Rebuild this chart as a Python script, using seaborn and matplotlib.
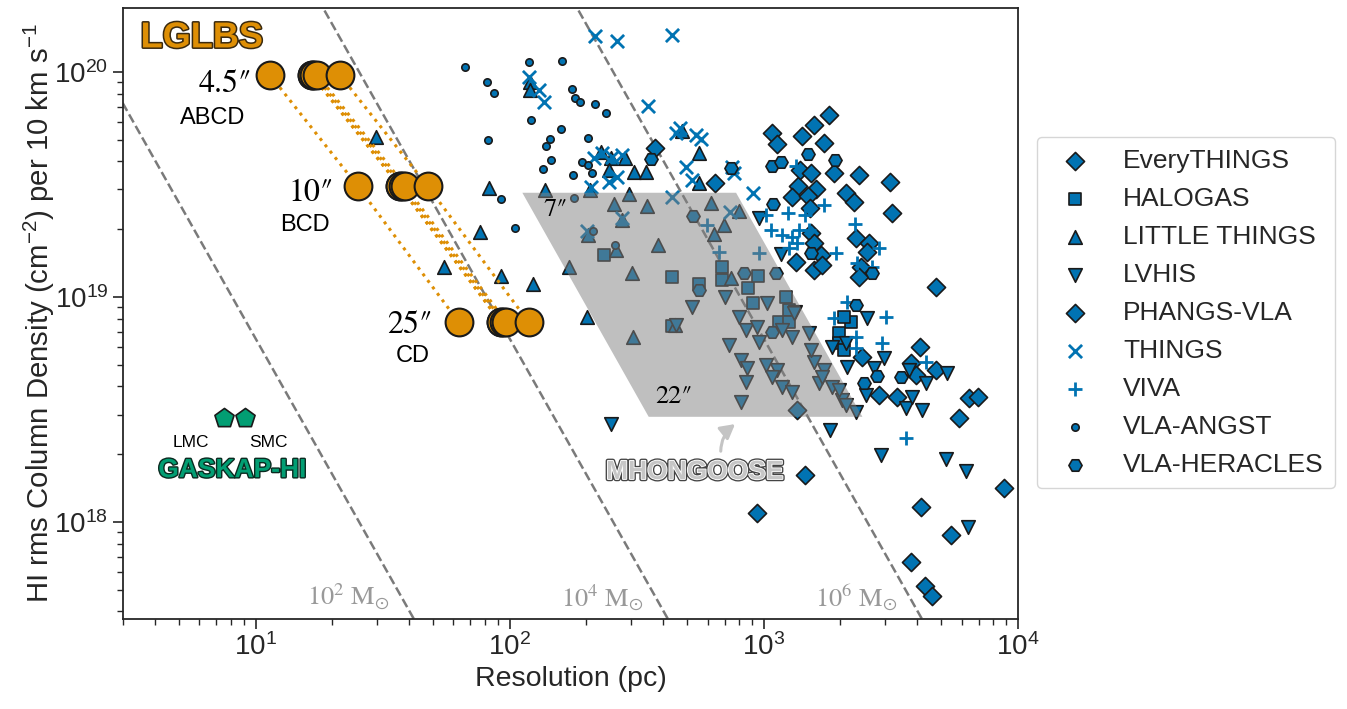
import numpy as np
import pandas as pd
import matplotlib
matplotlib.use("Agg")
import matplotlib.pyplot as plt
import matplotlib.patheffects as pe
import seaborn as sns

# ---------------------------------------------------------------------------
# Archival HI surveys: spatial resolution (pc) and rms column density
# per 10 km/s channel, in units of 1e18 cm^-2
# ---------------------------------------------------------------------------
everythings_res = [372, 641, 1361, 1603, 1288, 1490, 1517, 2302, 2588, 2545,
                   1531, 1574, 1676, 1574, 1337, 1691, 2410, 2367, 4112, 2431,
                   3790, 4753, 3963, 2838, 3342, 6410, 6960, 5860, 1349, 1450,
                   938, 4150, 5445, 3790, 4306, 4585, 8810]
everythings_nhi = [45.9, 32.1, 31.1, 30.2, 27.8, 28.1, 24.9, 18.3, 17.4, 15.8,
                   19.2, 17.4, 15.4, 13.2, 14.3, 13.9, 13.5, 12.3, 6.0, 5.41,
                   5.09, 4.74, 4.5, 3.67, 3.59, 3.56, 3.59, 2.9, 3.15, 1.62,
                   1.09, 1.17, 0.87, 0.664, 0.52, 0.47, 1.42]

halogas_res = [234, 434, 555, 684, 684, 865, 946, 905, 1222, 1254, 1146, 434,
               2203, 2066, 1975, 1975, 2066, 1254]
halogas_nhi = [15.4, 12.3, 11.4, 13.6, 11.9, 11.0, 12.4, 9.4, 10.0, 8.75, 7.74,
               7.43, 7.74, 8.15, 6.92, 6.25, 5.81, 7.74]

little_things_res = [29.7, 120, 120, 82.6, 76.2, 55.0, 92.3, 123, 137, 228,
                     250, 284, 245, 308, 343, 475, 555, 555, 207, 294,
                     257, 346, 276, 203, 383, 261, 171, 302, 618, 696,
                     798, 635, 741, 446, 305, 201]
little_things_nhi = [51.4, 90.2, 83.2, 30.5, 19.4, 13.6, 12.4, 11.4, 29.9, 44.1,
                     41.5, 41.5, 36.7, 35.9, 35.9, 54.7, 43.6, 32.1, 29.9, 28.7,
                     25.9, 25.4, 22.0, 18.9, 17.0, 16.2, 13.6, 12.8, 26.2, 20.9,
                     24.1, 19.1, 12.1, 7.5, 6.6, 8.15]

lvhis_res = [521, 702, 798, 850, 938, 728, 955, 812, 858, 850,
             812, 1018, 1125, 1075, 1177, 1288, 1028, 1325, 1177, 1288,
             1503, 1574, 1723, 1648, 1853, 2029, 2302, 250, 1820, 2123,
             1853, 2104, 2545, 2966, 2710, 3724, 4345, 5250, 2523, 3622,
             4188, 3829, 1313, 1531, 1691, 1975, 2104, 2891, 5210, 6237,
             6350, 955, 1166, 451]
lvhis_nhi = [9.03, 10.0, 8.15, 7.13, 7.36, 6.12, 6.31, 5.25, 4.83, 4.19,
             3.41, 4.99, 4.74, 4.41, 3.98, 3.78, 9.4, 8.57, 7.13, 6.64,
             6.92, 5.14, 4.74, 4.15, 3.98, 3.49, 3.08, 2.73, 2.56, 4.89,
             6.0, 6.25, 8.07, 5.36, 4.83, 4.74, 4.15, 4.59, 3.67, 3.21,
             3.15, 3.59, 8.49, 5.81, 4.41, 3.86, 3.31, 1.99, 1.91, 1.69,
             0.95, 22.4, 15.5, 7.5]

phangs_res = [1075, 1125, 1411, 1574, 1804, 1723, 1387, 1531, 1888, 2367,
              3135, 3192, 2104, 2261, 4753]
phangs_nhi = [53.6, 47.9, 52.0, 58.1, 64.4, 48.3, 36.7, 35.6, 35.6, 34.8,
              32.4, 23.6, 29.0, 26.4, 11.1]

things_res = [216, 264, 434, 119, 130, 136, 349, 451, 467, 540,
              565, 493, 521, 748, 762, 906, 214, 230, 252, 276,
              245, 264, 208, 434, 735, 201, 276]
things_nhi = [144.5, 137, 146, 95, 83.2, 73.6, 70.6, 53.6, 56.4, 52.5,
              50.4, 37.8, 33.1, 37.8, 35.6, 29.0, 41.5, 43.6, 41.9, 42.8,
              32.4, 34.2, 30.8, 27.8, 23.9, 19.6, 22.4]

viva_res = [1337, 1723, 1018, 1242, 1450, 1066, 1177, 1288, 1374, 1349,
            1503, 1254, 955, 1920, 2281, 2323, 2838, 2661, 2123, 3020,
            1888, 2302, 2917, 2302, 4345, 3622, 597, 665]
viva_nhi = [38.2, 25.6, 23.1, 23.6, 23.1, 19.9, 18.9, 18.5, 19.9, 17.4,
            19.9, 16.5, 15.7, 15.7, 21.1, 14.2, 16.5, 13.5, 9.5, 8.15,
            8.07, 6.64, 6.25, 5.93, 5.14, 2.36, 20.9, 15.8]

angst_res = [66.5, 81, 87, 119, 160, 175, 180, 189, 216, 239,
             121, 159, 144, 139, 82, 203, 145, 135, 192, 203,
             210, 177, 92, 105, 179, 212, 259]
angst_nhi = [105, 90, 80.7, 111, 112, 84, 76.6, 73.6, 72, 65.8,
             61.2, 55.8, 50.4, 46.9, 49.9, 50.9, 40.6, 37.1, 39.8, 38.6,
             35.6, 34.8, 27.3, 20.3, 27.6, 19.6, 17.0]

heracles_res = [359, 741, 1075, 1166, 1490, 1905, 1084, 525, 555, 834,
                1115, 1075, 1531, 2661, 2302, 2786, 3459, 2477]
heracles_nhi = [41.0, 37.4, 38.2, 39.8, 43.2, 40.6, 25.9, 22.9, 10.7, 12.8,
                12.8, 7.0, 15.7, 12.7, 9.2, 4.45, 4.41, 4.15]

# LGLBS: Local Group galaxies, three VLA configuration combinations
lglbs_galaxies = ["NGC 6822", "IC 10", "IC 1613", "M31", "M33", "WLM"]
lglbs_dist_mpc = [0.52, 0.76, 0.76, 0.78, 0.80, 0.98]
lglbs_beam_arcsec = [4.5, 10.0, 25.0]
lglbs_beam_labels = ["4.5\u2033", "10\u2033", "25\u2033"]
lglbs_configs = ["ABCD", "BCD", "CD"]
lglbs_nhi = [97.0, 31.0, 7.7]

# GASKAP-HI: Magellanic Clouds
gaskap_names = ["LMC", "SMC"]
gaskap_res = [7.5, 9.1]
gaskap_nhi = [2.9, 2.9]

# MHONGOOSE: range of distances and beams
mhongoose_dist_mpc = [3.3, 22.9]
mhongoose_beam_arcsec = [7.0, 22.0]
mhongoose_beam_labels = ["7\u2033", "22\u2033"]
mhongoose_nhi = [29.0, 2.93]

# Constant HI mass lines: N = coeff * M / res^2
mass_line_masses = [1e2, 1e4, 1e6]
mass_line_labels = [r"$10^2\ \mathrm{M}_{\odot}$", r"$10^4\ \mathrm{M}_{\odot}$",
                    r"$10^6\ \mathrm{M}_{\odot}$"]
mass_line_coeff = 6.5e18

survey_names = ["EveryTHINGS", "HALOGAS", "LITTLE THINGS", "LVHIS", "PHANGS-VLA",
                "THINGS", "VIVA", "VLA-ANGST", "VLA-HERACLES"]
survey_data = [(everythings_res, everythings_nhi), (halogas_res, halogas_nhi),
               (little_things_res, little_things_nhi), (lvhis_res, lvhis_nhi),
               (phangs_res, phangs_nhi), (things_res, things_nhi),
               (viva_res, viva_nhi), (angst_res, angst_nhi),
               (heracles_res, heracles_nhi)]

ARCSEC_PER_RAD = 206265.0
SERIF = ["STIXGeneral", "Liberation Serif", "DejaVu Serif"]

# ---------------------------------------------------------------------------
sns.set_theme(style="ticks")
plt.rcParams["font.family"] = ["Liberation Sans", "DejaVu Sans"]
plt.rcParams["mathtext.fontset"] = "custom"
plt.rcParams["mathtext.rm"] = "Liberation Sans"
plt.rcParams["mathtext.it"] = "Liberation Sans:italic"
plt.rcParams["mathtext.bf"] = "Liberation Sans:bold"

pal = sns.color_palette("colorblind")
blue, orange, green = pal[0], pal[1], pal[2]
edge = "#1a1a1a"

fig = plt.figure(figsize=(13.47, 7.09), dpi=100)
ax = fig.add_axes([0.0913, 0.1276, 0.6644, 0.8611])
ax.set_xscale("log")
ax.set_yscale("log")
xlo, xhi = 3, 1e4
ylo, yhi = 3.72e17, 1.92e20
ax.set_xlim(xlo, xhi)
ax.set_ylim(ylo, yhi)

# constant-mass lines
d = np.logspace(0, 5, 300)
frac_y = 0.035
n_lab = 10 ** (np.log10(ylo) + frac_y * (np.log10(yhi) - np.log10(ylo)))
for m, lab in zip(mass_line_masses, mass_line_labels):
    ax.plot(d, mass_line_coeff * m / d**2, ls="--", color="#7a7a7a", lw=1.8, zorder=1)
    d_lab = np.sqrt(mass_line_coeff * m / n_lab)
    t = ax.annotate(lab, xy=(d_lab, n_lab), xytext=(-12, 0), textcoords="offset pixels",
                    ha="right", va="center", fontsize=19, color="#999999")
    t.set_math_fontfamily("stix")

# survey markers
marker_styles = {
    "EveryTHINGS": dict(marker="D", s=85),
    "HALOGAS": dict(marker="s", s=85),
    "LITTLE THINGS": dict(marker="^", s=95),
    "LVHIS": dict(marker="v", s=95),
    "PHANGS-VLA": dict(marker="D", s=85),
    "THINGS": dict(marker="x", s=90),
    "VIVA": dict(marker="+", s=95),
    "VLA-ANGST": dict(marker="o", s=28),
    "VLA-HERACLES": dict(marker="H", s=90),
}
for name, (res, nhi) in zip(survey_names, survey_data):
    df = pd.DataFrame({"res": res, "nhi": np.asarray(nhi) * 1e18})
    st = marker_styles[name]
    if st["marker"] in ("x", "+"):
        sns.scatterplot(data=df, x="res", y="nhi", marker=st["marker"], s=st["s"],
                        color=blue, linewidth=2.0, label=name, ax=ax, zorder=3)
    else:
        sns.scatterplot(data=df, x="res", y="nhi", marker=st["marker"], s=st["s"],
                        color=blue, edgecolor=edge, linewidth=1.2, label=name,
                        ax=ax, zorder=3)

# MHONGOOSE parameter space
dmin, dmax = [v * 1e6 / ARCSEC_PER_RAD for v in mhongoose_dist_mpc]
b7, b22 = mhongoose_beam_arcsec
n7, n22 = [v * 1e18 for v in mhongoose_nhi]
poly_x = [b7 * dmin, b7 * dmax, b22 * dmax, b22 * dmin]
poly_y = [n7, n7, n22, n22]
ax.fill(poly_x, poly_y, color="0.5", alpha=0.5, lw=0, zorder=4)
ax.annotate(mhongoose_beam_labels[0], xy=(poly_x[0], poly_y[0]), xytext=(33, -17),
            textcoords="offset pixels", ha="center", va="center", zorder=6,
            fontsize=19, family=SERIF, color="black")
ax.annotate(mhongoose_beam_labels[1], xy=(poly_x[3], poly_y[3]), xytext=(25, 20),
            textcoords="offset pixels", ha="center", va="center", zorder=6,
            fontsize=19, family=SERIF, color="black")

outline = [pe.Stroke(linewidth=3.2, foreground="#444444"),
           pe.Stroke(linewidth=1.3, foreground="white"), pe.Normal()]
ax.annotate("MHONGOOSE", xy=(770, 2.72e18), xycoords="data",
            xytext=(0.639, 0.240), textcoords="axes fraction",
            ha="center", va="center", fontsize=19, fontweight="bold", color="#c6c6c6",
            path_effects=outline, zorder=6,
            arrowprops=dict(arrowstyle="-|>,head_length=0.45,head_width=0.25",
                            color="#c4c4c4", lw=2.2, shrinkA=4, shrinkB=0,
                            connectionstyle="arc3,rad=-0.3", relpos=(0.65, 1.0)))

# LGLBS
res_grid = np.array([[b * dist * 1e6 / ARCSEC_PER_RAD for b in lglbs_beam_arcsec]
                     for dist in lglbs_dist_mpc])
n_grid = np.array(lglbs_nhi) * 1e18
for row in res_grid:
    ax.plot(row, n_grid, ls=":", color=orange, lw=2.2, zorder=5)
lg_df = pd.DataFrame({"res": res_grid.ravel(),
                      "nhi": np.tile(n_grid, len(lglbs_dist_mpc))})
sns.scatterplot(data=lg_df, x="res", y="nhi", marker="o", s=400, color=orange,
                edgecolor=edge, linewidth=1.5, ax=ax, zorder=6, legend=False)

beam_offsets = [(-17, -17), (-24, -15), (-26, -11)]
config_offsets = [(-57, -49), (-53, -45), (-46, -40)]
first = res_grid.min(axis=0)
for j in range(3):
    ax.annotate(lglbs_beam_labels[j], xy=(first[j], n_grid[j]), xytext=beam_offsets[j],
                textcoords="offset pixels", ha="right", va="baseline", fontsize=23,
                family=SERIF, color="black", zorder=7)
    ax.annotate(lglbs_configs[j], xy=(first[j], n_grid[j]), xytext=config_offsets[j],
                textcoords="offset pixels", ha="center", va="baseline", fontsize=17,
                color="black", zorder=7)

ax.text(0.088, 0.951, "LGLBS", transform=ax.transAxes, ha="center", va="center",
        fontsize=26, fontweight="bold", color=orange, zorder=7,
        path_effects=[pe.Stroke(linewidth=2.2, foreground="#3a2a10"), pe.Normal()])

# GASKAP-HI
gk_df = pd.DataFrame({"res": gaskap_res, "nhi": np.asarray(gaskap_nhi) * 1e18})
sns.scatterplot(data=gk_df, x="res", y="nhi", marker="p", s=210, color=green,
                edgecolor=edge, linewidth=1.2, ax=ax, zorder=6, legend=False)
for name, r, n, off in zip(gaskap_names, gaskap_res, gaskap_nhi, [(-33, -25), (23, -25)]):
    ax.annotate(name, xy=(r, n * 1e18), xytext=off, textcoords="offset pixels",
                ha="center", va="center", fontsize=12.5, color="black")
ax.text(0.122, 0.243, "GASKAP-HI", transform=ax.transAxes, ha="center", va="center",
        fontsize=19, fontweight="bold", color=green, zorder=7,
        path_effects=[pe.Stroke(linewidth=2.0, foreground="#0b2a20"), pe.Normal()])

# axes cosmetics
ax.set_xlabel("Resolution (pc)", fontsize=20.5)
ax.set_ylabel(r"HI rms Column Density (cm$^{-2}$) per 10 km s$^{-1}$", fontsize=21.2,
              labelpad=-2)
ax.tick_params(axis="both", which="major", labelsize=20, length=7, width=1.2)
ax.tick_params(axis="both", which="minor", length=4, width=1.0)
for sp in ax.spines.values():
    sp.set_linewidth(1.3)

handles, labels = ax.get_legend_handles_labels()
keep = [(h, l) for h, l in zip(handles, labels) if l in survey_names]
leg = ax.legend([h for h, _ in keep], [l for _, l in keep],
                loc="upper left", bbox_to_anchor=(0.770, 0.807),
                bbox_transform=fig.transFigure, fontsize=19, frameon=True,
                labelspacing=0.53, handletextpad=0.8, borderpad=0.45,
                borderaxespad=0.0)
leg.get_frame().set_edgecolor("0.8")
leg.get_frame().set_linewidth(1.0)

fig.savefig("out.png", dpi=100)
